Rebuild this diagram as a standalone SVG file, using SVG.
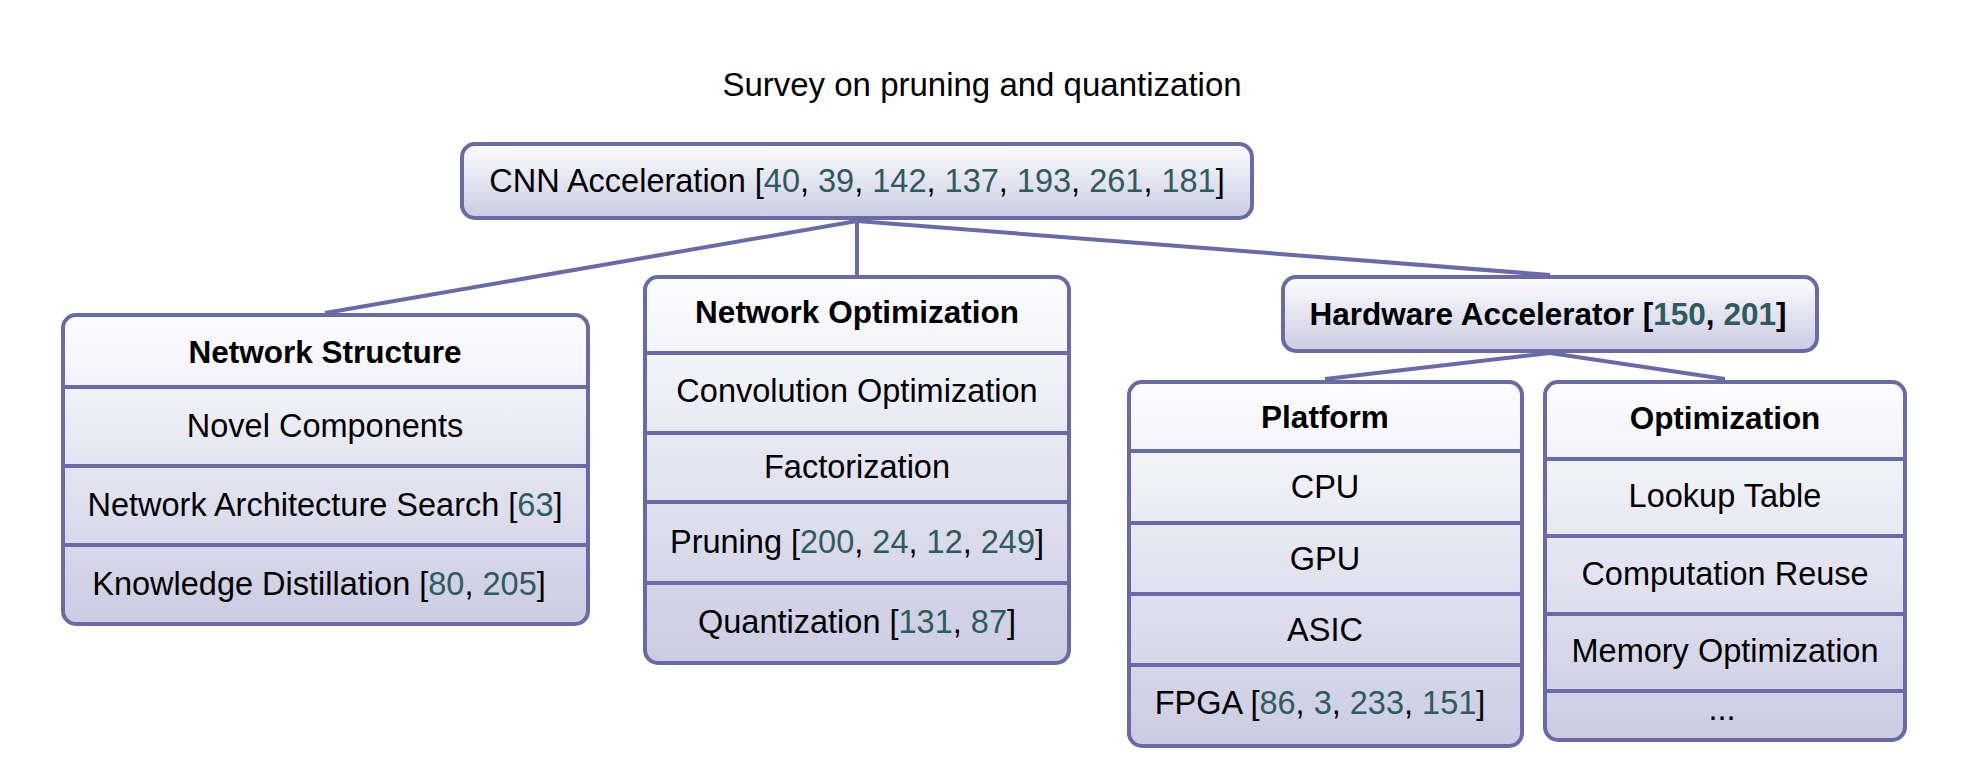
<svg xmlns="http://www.w3.org/2000/svg" width="1970" height="772" viewBox="0 0 1970 772">
<style>
text{font-family:"Liberation Sans",Arial,sans-serif;font-size:32.5px;fill:#000;text-anchor:middle}
.b{font-weight:bold;font-size:31.5px}
.c{fill:#2e5b5b}
.box{fill:url(#g);stroke:#6a6aa8;stroke-width:4}
.div{stroke:#6a6aa8;stroke-width:4}
.edge{stroke:#6a6aa8;stroke-width:4;fill:none}
</style>
<defs>
<linearGradient id="g" x1="0" y1="0" x2="0" y2="1">
<stop offset="0" stop-color="#fdfdff"/>
<stop offset="1" stop-color="#cbcbe3"/>
</linearGradient>
</defs>
<rect width="1970" height="772" fill="#fff"/>
<text x="982" y="96" style="font-size:33px">Survey on pruning and quantization</text>

<g id="connectors">
<line class="edge" x1="857" y1="221" x2="325" y2="313"/>
<line class="edge" x1="857" y1="221" x2="857" y2="276"/>
<line class="edge" x1="857" y1="221" x2="1550" y2="275"/>
<line class="edge" x1="1550" y1="353" x2="1325" y2="379"/>
<line class="edge" x1="1550" y1="353" x2="1725" y2="379"/>
</g>

<g id="root">
<rect class="box" x="462" y="144" width="790" height="74" rx="13"/>
<text x="857" y="192">CNN Acceleration [<tspan class="c">40</tspan>, <tspan class="c">39</tspan>, <tspan class="c">142</tspan>, <tspan class="c">137</tspan>, <tspan class="c">193</tspan>, <tspan class="c">261</tspan>, <tspan class="c">181</tspan>]</text>
</g>

<g id="network-structure">
<rect class="box" x="63" y="315" width="525" height="309" rx="13"/>
<line class="div" x1="63" y1="387" x2="588" y2="387"/>
<line class="div" x1="63" y1="466" x2="588" y2="466"/>
<line class="div" x1="63" y1="545" x2="588" y2="545"/>
<text class="b" x="325" y="363">Network Structure</text>
<text x="325" y="437">Novel Components</text>
<text x="325" y="516">Network Architecture Search [<tspan class="c">63</tspan>]</text>
<text x="319" y="595">Knowledge Distillation [<tspan class="c">80</tspan>, <tspan class="c">205</tspan>]</text>
</g>

<g id="network-optimization">
<rect class="box" x="645" y="277" width="424" height="386" rx="13"/>
<line class="div" x1="645" y1="353" x2="1069" y2="353"/>
<line class="div" x1="645" y1="433" x2="1069" y2="433"/>
<line class="div" x1="645" y1="502" x2="1069" y2="502"/>
<line class="div" x1="645" y1="583" x2="1069" y2="583"/>
<text class="b" x="857" y="323">Network Optimization</text>
<text x="857" y="402">Convolution Optimization</text>
<text x="857" y="478">Factorization</text>
<text x="857" y="553">Pruning [<tspan class="c">200</tspan>, <tspan class="c">24</tspan>, <tspan class="c">12</tspan>, <tspan class="c">249</tspan>]</text>
<text x="857" y="633">Quantization [<tspan class="c">131</tspan>, <tspan class="c">87</tspan>]</text>
</g>

<g id="hardware-accelerator">
<rect class="box" x="1283" y="277" width="534" height="74" rx="13"/>
<text class="b" x="1548" y="325">Hardware Accelerator [<tspan class="c">150</tspan>, <tspan class="c">201</tspan>]</text>
</g>

<g id="platform">
<rect class="box" x="1129" y="382" width="393" height="364" rx="13"/>
<line class="div" x1="1129" y1="451" x2="1522" y2="451"/>
<line class="div" x1="1129" y1="523" x2="1522" y2="523"/>
<line class="div" x1="1129" y1="594" x2="1522" y2="594"/>
<line class="div" x1="1129" y1="665" x2="1522" y2="665"/>
<text class="b" x="1325" y="428">Platform</text>
<text x="1325" y="498">CPU</text>
<text x="1325" y="570">GPU</text>
<text x="1325" y="641">ASIC</text>
<text x="1320" y="714">FPGA [<tspan class="c">86</tspan>, <tspan class="c">3</tspan>, <tspan class="c">233</tspan>, <tspan class="c">151</tspan>]</text>
</g>

<g id="optimization">
<rect class="box" x="1545" y="382" width="360" height="358" rx="13"/>
<line class="div" x1="1545" y1="459" x2="1905" y2="459"/>
<line class="div" x1="1545" y1="536" x2="1905" y2="536"/>
<line class="div" x1="1545" y1="614" x2="1905" y2="614"/>
<line class="div" x1="1545" y1="691" x2="1905" y2="691"/>
<text class="b" x="1725" y="429">Optimization</text>
<text x="1725" y="507">Lookup Table</text>
<text x="1725" y="585">Computation Reuse</text>
<text x="1725" y="662">Memory Optimization</text>
<text x="1722" y="720">...</text>
</g>
</svg>
